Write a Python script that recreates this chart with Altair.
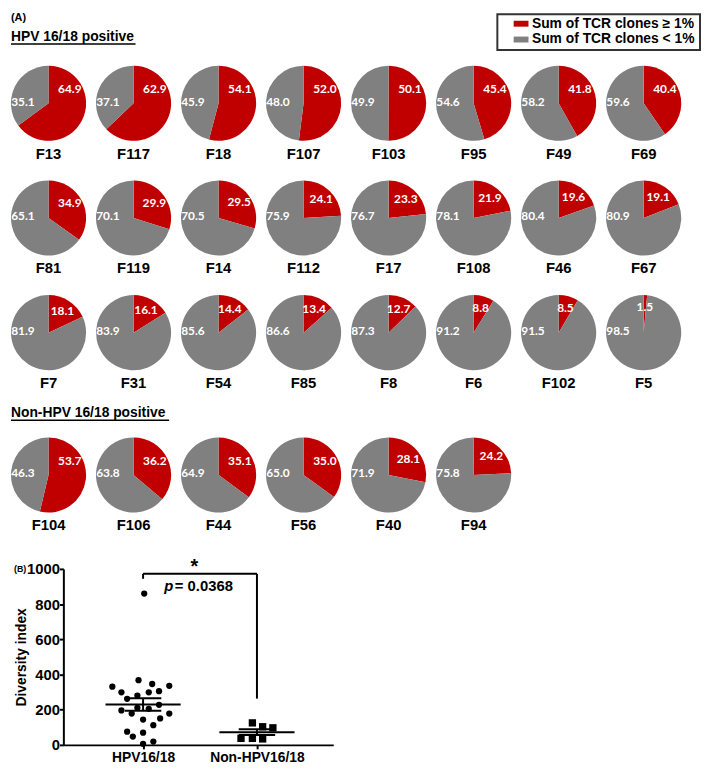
import altair as alt
import pandas as pd

FONT = "Liberation Sans"
RED = "#C00000"
GRAY = "#808080"
HIGH = "Sum of TCR clones ≥ 1%"
LOW = "Sum of TCR clones < 1%"
LEGEND_CLASSES = [HIGH, LOW]

# ---------------- Panel A data ----------------
hpv_samples = ["F13", "F117", "F18", "F107", "F103", "F95", "F49", "F69",
               "F81", "F119", "F14", "F112", "F17", "F108", "F46", "F67",
               "F7", "F31", "F54", "F85", "F8", "F6", "F102", "F5"]
hpv_high = [64.9, 62.9, 54.1, 52.0, 50.1, 45.4, 41.8, 40.4,
            34.9, 29.9, 29.5, 24.1, 23.3, 21.9, 19.6, 19.1,
            18.1, 16.1, 14.4, 13.4, 12.7, 8.8, 8.5, 1.5]
hpv_low = [35.1, 37.1, 45.9, 48.0, 49.9, 54.6, 58.2, 59.6,
           65.1, 70.1, 70.5, 75.9, 76.7, 78.1, 80.4, 80.9,
           81.9, 83.9, 85.6, 86.6, 87.3, 91.2, 91.5, 98.5]

non_samples = ["F104", "F106", "F44", "F56", "F40", "F94"]
non_high = [53.7, 36.2, 35.1, 35.0, 28.1, 24.2]
non_low = [46.3, 63.8, 64.9, 65.0, 71.9, 75.8]

# ---------------- Panel B data ----------------
group_names = ["HPV16/18", "Non-HPV16/18"]
hpv_div = [860, 331, 368, 346, 336, 299, 280, 299, 305, 262, 228, 196,
           178, 211, 205, 178, 144, 150, 112, 75, 47, 69, 6, 19]
hpv_xoff = [0.01, -0.27, -0.04, 0.08, 0.23, -0.19, -0.05, 0.05, 0.14, -0.14, 0.14, -0.19,
            -0.10, -0.05, 0.05, 0.23, 0.0, 0.15, 0.09, -0.14, -0.09, 0.0, 0.0, 0.09]
non_div = [125, 103, 97, 37, 37, 34]
non_xoff = [-0.04, 0.05, 0.14, -0.14, -0.04, 0.05]
p_text = "= 0.0368"
star_text = "*"
bracket_x = [1, 1, 2]
bracket_x2 = [1, 2, 2]
bracket_y = [944, 972, 972]
bracket_y2 = [972, 972, 263]

color_scale = alt.Scale(domain=LEGEND_CLASSES, range=[RED, GRAY])


def pie_frame(samples, high, low):
    rows = []
    for s, h, l in zip(samples, high, low):
        rows.append({"sample": s, "cls": HIGH, "ord": 0, "value": h})
        rows.append({"sample": s, "cls": LOW, "ord": 1, "value": l})
    return pd.DataFrame(rows)


def pies(samples, high, low):
    df = pie_frame(samples, high, low)
    theta_scale = alt.Scale(domain=[0, 100])
    arc = alt.Chart().mark_arc(radius=38).encode(
        theta=alt.Theta("value:Q", stack=True, scale=theta_scale),
        color=alt.Color("cls:N", scale=color_scale, legend=None),
        order=alt.Order("ord:Q"),
    )
    lab = alt.Chart().transform_calculate(
        pos="datum.ord == 0 ? min(datum.value / 2, 15.5) : 76"
    ).mark_text(radius=26, font="Lato", fontSize=12, fontWeight="bold",
                color="white", align="center", baseline="middle").encode(
        theta=alt.Theta("pos:Q", stack=False, scale=theta_scale),
        text=alt.Text("value:Q", format=".1f"),
    )
    return alt.layer(arc, lab, data=df).properties(width=76, height=76).facet(
        facet=alt.Facet("sample:N", sort=samples, title=None,
                        header=alt.Header(labelOrient="bottom", labelFont=FONT, labelFontSize=15,
                                          labelFontWeight="bold", labelColor="black",
                                          labelPadding=6)),
        columns=8,
        spacing={"row": 19, "column": 10},
    )


def header(label, y_text, y_line, line_len, height, extra=()):
    t = alt.Chart(pd.DataFrame({"t": [label]})).mark_text(
        align="left", baseline="middle", font=FONT, fontSize=14, fontWeight="bold", color="black"
    ).encode(text="t:N", x=alt.value(0), y=alt.value(y_text))
    u = alt.Chart(pd.DataFrame({"t": [label]})).mark_rule(color="black", strokeWidth=1.5).encode(
        x=alt.value(0), x2=alt.value(line_len), y=alt.value(y_line))
    return alt.layer(t, u, *extra).properties(width=600, height=height)


a_label = alt.Chart(pd.DataFrame({"t": ["(A)"]})).mark_text(
    align="left", baseline="middle", font=FONT, fontSize=11, fontWeight="bold", color="black"
).encode(text="t:N", x=alt.value(0), y=alt.value(5))

# legend drawn from the class list through the shared colour scale
leg_df = pd.DataFrame({"cls": LEGEND_CLASSES})
leg_y = alt.Y("cls:N", scale=alt.Scale(type="point", domain=LEGEND_CLASSES, range=[10.5, 26.5],
                                        padding=0), axis=None)
leg_box = alt.Chart(pd.DataFrame({"t": ["box"]})).mark_rect(
    fill="white", fillOpacity=0, stroke="#333333", strokeWidth=2
).encode(x=alt.value(492), x2=alt.value(697), y=alt.value(1), y2=alt.value(37))
leg_sym = alt.Chart(leg_df).mark_point(
    shape="M-1,-0.4L1,-0.4L1,0.4L-1,0.4Z", size=225, filled=True, opacity=1, strokeWidth=0
).encode(x=alt.value(516), y=leg_y, color=alt.Color("cls:N", scale=color_scale, legend=None))
leg_txt = alt.Chart(leg_df).mark_text(
    align="left", baseline="middle", font=FONT, fontSize=14, fontWeight="bold", color="black"
).encode(x=alt.value(527), y=leg_y, text="cls:N")

hdr1 = header("HPV 16/18 positive", 24, 31, 126, 53, (a_label, leg_box, leg_sym, leg_txt))
pies1 = pies(hpv_samples, hpv_high, hpv_low)
hdr2 = header("Non-HPV 16/18 positive", 22, 29.5, 160, 47)
pies2 = pies(non_samples, non_high, non_low)

# ---------------- Panel B ----------------
pts_df = pd.DataFrame({
    "x": [1 + o for o in hpv_xoff] + [2 + o for o in non_xoff],
    "y": hpv_div + non_div,
    "grp": [group_names[0]] * len(hpv_div) + [group_names[1]] * len(non_div),
    "gi": [1] * len(hpv_div) + [2] * len(non_div),
})
stats = pts_df.groupby("gi")["y"].agg(["mean", "sem"]).reset_index()

seg_rows = []
for _, r in stats.iterrows():
    g, m, s = r["gi"], r["mean"], r["sem"]
    seg_rows.append({"x": g - 0.33, "x2": g + 0.33, "y": m, "y2": m})          # mean
    seg_rows.append({"x": g - 0.16, "x2": g + 0.16, "y": m + s, "y2": m + s})  # +SEM
    seg_rows.append({"x": g - 0.16, "x2": g + 0.16, "y": m - s, "y2": m - s})  # -SEM
    seg_rows.append({"x": g, "x2": g, "y": m - s, "y2": m + s})                # whisker
for bx, bx2, by, by2 in zip(bracket_x, bracket_x2, bracket_y, bracket_y2):
    seg_rows.append({"x": bx, "x2": bx2, "y": by, "y2": by2})
seg_df = pd.DataFrame(seg_rows)

xscale = alt.Scale(domain=[0.3, 2.67], nice=False, zero=False)
yscale = alt.Scale(domain=[0, 1000], nice=False)

x_axis = alt.Axis(values=[1, 2], labelExpr="datum.value == 1 ? 'HPV16/18' : 'Non-HPV16/18'",
                  labelFontSize=14, labelPadding=2, labelOverlap=False)
y_axis = alt.Axis(values=[0, 200, 400, 600, 800, 1000], format="d", labelFontSize=15,
                  labelPadding=0, titlePadding=-2, labelOverlap=False)

X = alt.X("x:Q", scale=xscale, axis=x_axis, title=None)
Y = alt.Y("y:Q", scale=yscale, axis=y_axis, title="Diversity index")

pts = alt.Chart(pts_df).mark_point(filled=True, opacity=1, color="black").encode(
    x=X, y=Y,
    shape=alt.Shape("grp:N", scale=alt.Scale(domain=group_names, range=["circle", "square"]),
                    legend=None),
    size=alt.Size("grp:N", scale=alt.Scale(domain=group_names, range=[40, 55]), legend=None),
)
segs = alt.Chart(seg_df).mark_rule(color="black", strokeWidth=2).encode(
    x=X, x2="x2:Q", y=Y, y2="y2:Q")

star = alt.Chart(pd.DataFrame({"x": [1.45], "y": [1012], "t": [star_text]})).mark_text(
    font=FONT, fontSize=20, fontWeight="bold", color="black", baseline="middle"
).encode(x=X, y=Y, text="t:N")
p_italic = alt.Chart(pd.DataFrame({"x": [1.5], "y": [900], "t": ["p"]})).mark_text(
    font=FONT, fontSize=15, fontWeight="bold", fontStyle="italic", color="black",
    align="right", baseline="middle", dx=-27
).encode(x=X, y=Y, text="t:N")
p_val = alt.Chart(pd.DataFrame({"x": [1.5], "y": [900], "t": [p_text]})).mark_text(
    font=FONT, fontSize=15, fontWeight="bold", color="black",
    align="left", baseline="middle", dx=-25.5
).encode(x=X, y=Y, text="t:N")
b_label = alt.Chart(pd.DataFrame({"t": ["(B)"]})).mark_text(
    font=FONT, fontSize=9, fontWeight="bold", color="black", align="left", baseline="middle"
).encode(text="t:N", x=alt.value(-50), y=alt.value(0))

panel_b = alt.layer(pts, segs, star, p_italic, p_val, b_label).properties(width=273, height=178)

spacer = alt.Chart(pd.DataFrame({"a": [0]})).mark_point(opacity=0).encode(
    x=alt.value(0), y=alt.value(0)).properties(width=1, height=10)
row_b = alt.hconcat(spacer, panel_b, spacing=0)

top = alt.vconcat(hdr1, pies1, hdr2, pies2, spacing=0)
chart = alt.vconcat(top, row_b, spacing=23).properties(
    padding={"left": 0, "top": 0, "right": 0, "bottom": 0}
).configure(font=FONT).configure_view(strokeWidth=0).configure_axis(
    labelFont=FONT, labelFontWeight="bold", labelColor="black", labelOverlap=False,
    titleFont=FONT, titleFontSize=14, titleFontWeight="bold", titleColor="black",
    tickSize=4, tickWidth=2, tickColor="black", domainWidth=2, domainColor="black", grid=False,
)

chart.save("out.html", embed_options={"renderer": "svg", "actions": False})
